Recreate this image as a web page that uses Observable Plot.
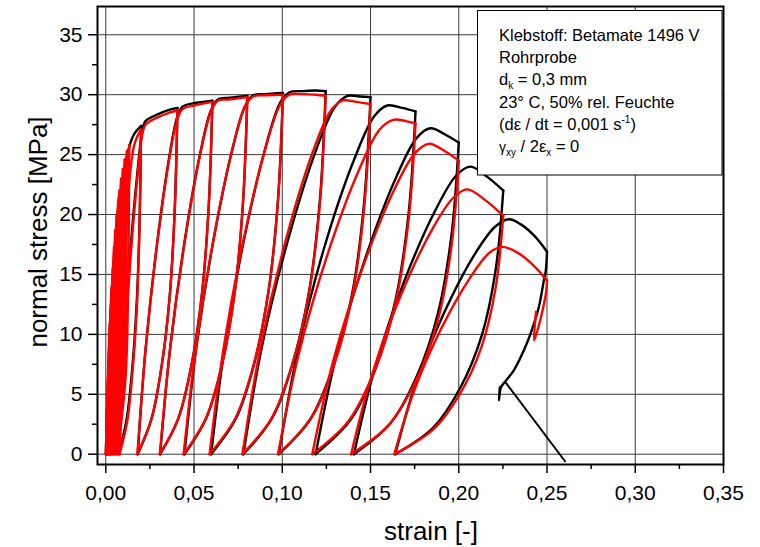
<!DOCTYPE html>
<html><head><meta charset="utf-8">
<script src="https://cdn.jsdelivr.net/npm/d3@7"></script>
<script src="https://cdn.jsdelivr.net/npm/@observablehq/plot@0.6"></script>
<style>body{margin:0;background:#fff} svg{display:block}</style>
</head><body><div id="chart"></div>
<script>
// ---- data: traced (strain, stress [MPa]) path pieces between cusps ----
const blackSegments = [
 [[0,0],[0.001,5],[0.0025,11],[0.0035,14]],
 [[0.0035,14],[0.0030,8],[0.0020,3],[0.0006,0]],
 [[0.0006,0],[0.0020,6],[0.0040,13],[0.0060,18.5],[0.0075,21.5]],
 [[0.0075,21.5],[0.0067,13],[0.0052,5],[0.0022,0]],
 [[0.0022,0],[0.0042,8],[0.0068,16],[0.0095,22],[0.0125,25.2],[0.0160,26.7],[0.0200,27.4]],
 [[0.0200,27.4],[0.0191,19.2],[0.0174,12.3],[0.0148,6.85],[0.0116,2.74],[0.0070,0]],
 [[0.0070,0],[0.0098,8.3],[0.0137,16.6],[0.0179,23.5],[0.0206,26.9],[0.0225,27.8],[0.030,28.4],[0.035,28.7],[0.0406,28.9]],
 [[0.0406,28.9],[0.0390,20.2],[0.0361,13.0],[0.0315,7.2],[0.0258,2.9],[0.0181,0]],
 [[0.0181,0],[0.0225,8.7],[0.0289,17.4],[0.0358,24.65],[0.0404,28.1],[0.0435,29.0],[0.050,29.3],[0.055,29.4],[0.0604,29.5]],
 [[0.0604,29.5],[0.0583,20.65],[0.0544,13.3],[0.0485,7.4],[0.0410,2.95],[0.0308,0]],
 [[0.0308,0],[0.0365,8.9],[0.0447,17.8],[0.0536,25.2],[0.0596,28.7],[0.0635,29.6],[0.070,29.75],[0.0802,29.9]],
 [[0.0802,29.9],[0.0777,20.9],[0.0730,13.5],[0.0659,7.5],[0.0569,3.0],[0.0446,0]],
 [[0.0446,0],[0.0514,9.0],[0.0612,18.0],[0.0718,25.5],[0.0788,29.0],[0.0835,29.95],[0.090,30.05],[0.1004,30.15]],
 [[0.1004,30.15],[0.0975,21.1],[0.0922,13.6],[0.0840,7.5],[0.0738,3.0],[0.0597,0]],
 [[0.0597,0],[0.0675,9.06],[0.0786,18.1],[0.0907,25.7],[0.0987,29.3],[0.104,30.2],[0.112,30.3],[0.119,30.35],[0.1246,30.3]],
 [[0.1246,30.3],[0.1213,21.2],[0.1152,13.6],[0.1059,7.6],[0.0942,3.0],[0.0780,0]],
 [[0.0780,0],[0.0885,9.0],[0.1033,17.9],[0.1192,25.4],[0.1299,29.0],[0.137,29.9],[0.144,29.85],[0.150,29.8]],
 [[0.150,29.8],[0.1463,20.9],[0.1396,13.4],[0.1291,7.45],[0.1161,2.98],[0.0980,0]],
 [[0.0980,0],[0.1089,8.7],[0.1243,17.5],[0.1410,24.7],[0.1521,28.2],[0.1595,29.1],[0.168,28.9],[0.1755,28.6]],
 [[0.1755,28.6],[0.1715,20.0],[0.1642,12.9],[0.1529,7.15],[0.1387,2.86],[0.1189,0]],
 [[0.1189,0],[0.1306,8.2],[0.1469,16.3],[0.1645,23.1],[0.1762,26.4],[0.184,27.2],[0.192,26.7],[0.200,26.0]],
 [[0.200,26.0],[0.1958,18.2],[0.1881,11.7],[0.1762,6.5],[0.1614,2.6],[0.1406,0]],
 [[0.1406,0],[0.1525,7.2],[0.1690,14.4],[0.1869,20.4],[0.1988,23.3],[0.2067,24.0],[0.2165,23.1],[0.2252,22.0]],
 [[0.2252,22.0],[0.2209,15.4],[0.2130,9.9],[0.2007,5.5],[0.1854,2.2],[0.1640,0]],
 [[0.1640,0],[0.1756,5.9],[0.1917,11.8],[0.2091,16.7],[0.2207,19.0],[0.2284,19.6],[0.235,19.2],[0.243,18.2],[0.250,16.9]],
 [[0.250,16.9],[0.2493,15.3],[0.2482,14.5],[0.2454,12.3],[0.2407,10.06],[0.2369,8.67],[0.2312,7.0],[0.2265,6.1],[0.2240,5.6],[0.2227,4.5],[0.2233,5.6]]
];
const redSegments = [
 [[0,0],[0.0005,2.5],[0.0010,5],[0.0015,7.0]],
 [[0.0015,7],[0.0014,4.2],[0.0011,1.75],[0.0002,0]],
 [[0.0002,0],[0.00075,3.85],[0.00152,8.25],[0.0024,11]],
 [[0.0024,11],[0.00225,6.6],[0.00183,2.75],[0.0005,0]],
 [[0.0005,0],[0.00118,4.7],[0.00212,10.1],[0.0032,13.5]],
 [[0.0032,13.5],[0.00302,8.1],[0.00251,3.4],[0.0009,0]],
 [[0.0009,0],[0.00168,5.4],[0.00276,11.6],[0.0040,15.5]],
 [[0.0040,15.5],[0.00378,9.3],[0.00319,3.9],[0.0013,0]],
 [[0.0013,0],[0.00215,6.05],[0.00334,13.0],[0.0047,17.3]],
 [[0.0047,17.3],[0.00446,10.4],[0.00380,4.3],[0.0017,0]],
 [[0.0017,0],[0.00263,6.5],[0.00392,14.0],[0.0054,18.7]],
 [[0.0054,18.7],[0.00514,11.2],[0.00441,4.7],[0.0021,0]],
 [[0.0021,0],[0.00313,7.0],[0.00456,15.0],[0.0062,20.0]],
 [[0.0062,20],[0.00591,12],[0.00512,5],[0.0026,0]],
 [[0.0026,0],[0.0037,7.35],[0.00524,15.75],[0.0070,21]],
 [[0.0070,21],[0.00669,12.6],[0.00583,5.25],[0.0031,0]],
 [[0.0031,0],[0.00428,7.7],[0.00592,16.5],[0.0078,22]],
 [[0.0078,22],[0.00746,13.2],[0.00654,5.5],[0.0036,0]],
 [[0.0036,0],[0.00488,8.05],[0.00666,17.25],[0.0087,23]],
 [[0.0087,23],[0.00833,13.8],[0.00732,5.75],[0.0041,0]],
 [[0.0041,0],[0.0055,8.3],[0.00746,17.85],[0.0097,23.8]],
 [[0.0097,23.8],[0.00929,14.3],[0.00817,5.95],[0.0046,0]],
 [[0.0046,0],[0.00615,8.6],[0.00832,18.45],[0.0108,24.6]],
 [[0.0108,24.6],[0.01035,14.8],[0.00912,6.15],[0.0052,0]],
 [[0.0052,0],[0.0069,8.85],[0.00928,19.0],[0.0120,25.3]],
 [[0.0120,25.3],[0.0115,15.2],[0.01014,6.3],[0.0058,0]],
 [[0.0058,0],[0.00768,9.0],[0.0103,19.35],[0.0133,25.8]],
 [[0.0133,25.8],[0.01275,15.5],[0.01123,6.45],[0.0064,0]],
 [[0.0064,0],[0.0085,9],[0.0113,18],[0.0140,23.8],[0.0165,26.0],[0.0200,27.1]],
 [[0.0200,27.1],[0.0191,19.0],[0.0176,12.2],[0.0151,6.8],[0.0121,2.7],[0.0078,0]],
 [[0.0078,0],[0.0104,8.25],[0.0141,16.5],[0.0181,23.4],[0.0207,26.7],[0.0225,27.5],[0.030,28.15],[0.035,28.45],[0.0406,28.7]],
 [[0.0406,28.7],[0.0390,20.1],[0.0361,12.9],[0.0315,7.2],[0.0258,2.9],[0.0179,0]],
 [[0.0179,0],[0.0225,8.6],[0.0289,17.3],[0.0358,24.5],[0.0404,27.9],[0.0435,28.8],[0.050,29.1],[0.055,29.25],[0.0604,29.4]],
 [[0.0604,29.4],[0.0583,20.6],[0.0544,13.2],[0.0485,7.35],[0.0410,2.94],[0.0306,0]],
 [[0.0306,0],[0.0365,8.85],[0.0447,17.7],[0.0536,25.1],[0.0596,28.6],[0.0635,29.5],[0.070,29.6],[0.0802,29.8]],
 [[0.0802,29.8],[0.0777,20.9],[0.0730,13.4],[0.0658,7.45],[0.0567,2.98],[0.0441,0]],
 [[0.0441,0],[0.0512,8.96],[0.0610,17.9],[0.0717,25.4],[0.0788,29.0],[0.0835,29.85],[0.090,29.95],[0.1004,30.0]],
 [[0.1004,30.0],[0.0975,21.0],[0.0921,13.5],[0.0838,7.5],[0.0734,3.0],[0.0588,0]],
 [[0.0588,0],[0.0669,9.0],[0.0782,18.0],[0.0904,25.5],[0.0986,29.1],[0.104,30.0],[0.112,30.05],[0.119,30.0],[0.1246,29.9]],
 [[0.1246,29.9],[0.1213,20.9],[0.1152,13.5],[0.1057,7.5],[0.0939,3.0],[0.0774,0]],
 [[0.0774,0],[0.0876,8.85],[0.1017,17.7],[0.1170,25.1],[0.1272,28.6],[0.134,29.5],[0.142,29.4],[0.150,29.2]],
 [[0.150,29.2],[0.1463,20.4],[0.1395,13.1],[0.1290,7.3],[0.1159,2.9],[0.0976,0]],
 [[0.0976,0],[0.1094,8.4],[0.1257,16.7],[0.1434,23.7],[0.1552,27.1],[0.163,27.9],[0.170,27.8],[0.1755,27.6]],
 [[0.1755,27.6],[0.1714,19.3],[0.1638,12.4],[0.1521,6.9],[0.1375,2.76],[0.117,0]],
 [[0.117,0],[0.1289,7.8],[0.1454,15.5],[0.1632,22.0],[0.1751,25.1],[0.183,25.9],[0.192,25.3],[0.200,24.5]],
 [[0.200,24.5],[0.1957,17.15],[0.1878,11.0],[0.1756,6.1],[0.1604,2.45],[0.139,0]],
 [[0.139,0],[0.1508,6.6],[0.1673,13.3],[0.1851,18.8],[0.1969,21.4],[0.2048,22.1],[0.215,21.2],[0.2252,19.9]],
 [[0.2252,19.9],[0.2209,13.9],[0.2129,8.96],[0.2005,5.0],[0.1851,2.0],[0.1635,0]],
 [[0.1635,0],[0.1745,5.2],[0.1898,10.4],[0.2063,14.7],[0.2173,16.8],[0.2246,17.3],[0.2335,16.8],[0.242,15.8],[0.250,14.5]],
 [[0.250,14.5],[0.2495,13.5],[0.2482,12.5],[0.2455,10.8],[0.2427,9.5],[0.2438,11.9]]
];
const pointerLine = [{x1:0.2605, y1:-0.65, x2:0.2265, y2:6.0}];

const xTicks = [0,0.05,0.10,0.15,0.20,0.25,0.30,0.35];
const xMinor = [0.025,0.075,0.125,0.175,0.225,0.275,0.325];
const yTicks = [0,5,10,15,20,25,30,35];
const yMinor = [2.5,7.5,12.5,17.5,22.5,27.5,32.5];
const xTitle = "strain [-]";
const yTitle = "normal stress [MPa]";
const legendLines = [
 [["Klebstoff: Betamate 1496 V",""]],
 [["Rohrprobe",""]],
 [["d",""],["k","sub"],[" = 0,3 mm",""]],
 [["23° C, 50% rel. Feuchte",""]],
 [["(dε / dt = 0,001 s",""],["-1","sup"],[")",""]],
 [["γ","small"],["xy","sub"],[" / 2ε",""],["x","sub"],[" = 0",""]]
];

function toRows(segs, name){
  const out=[];
  segs.forEach((s,i)=>s.forEach(([x,y])=>out.push({seg:name+i,x,y})));
  return out;
}
const blackRows = toRows(blackSegments,"b");
const redRows = toRows(redSegments,"r");
const fmtX = d => d.toFixed(2).replace(".", ",");

const plot = Plot.plot({
  width:760, height:547,
  marginLeft:97, marginRight:37, marginTop:6, marginBottom:83,
  style:{fontFamily:"'Liberation Sans', Arial, sans-serif", fontSize:"21px", background:"#fff", color:"#000"},
  x:{domain:[-0.0047,0.35], axis:null},
  y:{domain:[-0.86,37.36], axis:null},
  marks:[
    Plot.ruleX(xTicks,{x:d=>d, stroke:"#3a3a3a", strokeWidth:1}),
    Plot.ruleY(yTicks,{y:d=>d, stroke:"#3a3a3a", strokeWidth:1}),
    Plot.line(blackRows,{x:"x",y:"y",z:"seg",stroke:"#000",strokeWidth:2.4,curve:"catmull-rom"}),
    Plot.line(redRows,{x:"x",y:"y",z:"seg",stroke:"#ff0000",strokeWidth:2.4,curve:"catmull-rom"}),
    Plot.link(pointerLine,{x1:"x1",y1:"y1",x2:"x2",y2:"y2",stroke:"#000",strokeWidth:2}),
    Plot.frame({stroke:"#000", strokeWidth:2}),
    Plot.axisY(yTicks,{tickSize:9, tickPadding:6, tickFormat:d=>String(d), strokeWidth:1.5, label:null}),
    Plot.axisY(yMinor,{tickSize:5, tickFormat:()=>"", strokeWidth:1.5, label:null}),
    Plot.axisX(xTicks,{tickSize:9, tickPadding:12, tickFormat:fmtX, strokeWidth:1.5, label:null}),
    Plot.axisX(xMinor,{tickSize:5, tickFormat:()=>"", strokeWidth:1.5, label:null})
  ]
});
document.getElementById("chart").appendChild(plot);

const svg = d3.select(plot);
const ff = "'Liberation Sans', Arial, sans-serif";
svg.append("text").attr("transform","translate(38,232) rotate(-90)")
  .attr("text-anchor","middle").attr("dominant-baseline","central")
  .style("font-size","26px").style("font-family",ff).attr("fill","#000").text(yTitle);
svg.append("text").attr("x",431).attr("y",531)
  .attr("text-anchor","middle").attr("dominant-baseline","central")
  .style("font-size","26px").style("font-family",ff).attr("fill","#000").text(xTitle);

const lg = svg.append("g").attr("text-anchor","start");
lg.append("rect").attr("x",477.5).attr("y",10.5).attr("width",244.5).attr("height",164.5)
  .attr("fill","#fff").attr("stroke","#000").attr("stroke-width",1);
legendLines.forEach((parts,i)=>{
  const t = lg.append("text").attr("x",499).attr("y",41+i*22.2)
    .attr("text-anchor","start")
    .style("font-family",ff).style("font-size","16.5px").attr("fill","#000");
  let shift = 0;
  parts.forEach(([txt,kind])=>{
    const sp = t.append("tspan").text(txt);
    let target = 0, size = "16.5px";
    if(kind==="sub"){target=4; size="10px";}
    else if(kind==="sup"){target=-7; size="10px";}
    else if(kind==="small"){size="14px";}
    sp.attr("dy", target-shift).style("font-size",size);
    shift = target;
  });
});
</script>
</body></html>
